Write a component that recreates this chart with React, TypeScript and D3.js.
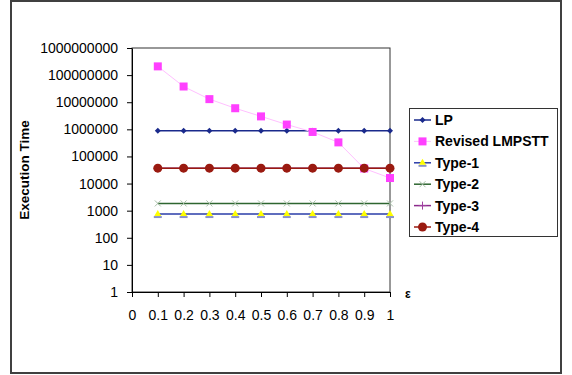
import React, { useRef, useEffect } from 'react';
import * as d3 from 'd3';

// x values (epsilon)
const epsilons = [0.1, 0.2, 0.3, 0.4, 0.5, 0.6, 0.7, 0.8, 0.9, 1.0];
const xTicks = [0, 0.1, 0.2, 0.3, 0.4, 0.5, 0.6, 0.7, 0.8, 0.9, 1];
const yTicks = [1, 10, 100, 1000, 10000, 100000, 1000000, 10000000, 100000000, 1000000000];

// series values
const lpValues = [890000, 890000, 890000, 890000, 890000, 890000, 890000, 890000, 890000, 890000];
const revisedValues = [210000000, 38000000, 13000000, 6000000, 3000000, 1500000, 800000, 330000, 36000, 16000];
const type1Values = [750, 750, 750, 750, 750, 750, 750, 750, 750, 750];
const type2Values = [1850, 1850, 1850, 1850, 1850, 1850, 1850, 1850, 1850, 1850];
const type3Values = [37000, 37000, 37000, 37000, 37000, 37000, 37000, 37000, 37000, 37000];
const type4Values = [37000, 37000, 37000, 37000, 37000, 37000, 37000, 37000, 37000, 37000];

const seriesNames = ['LP', 'Revised LMPSTT', 'Type-1', 'Type-2', 'Type-3', 'Type-4'];

type Series = { name: string; values: number[]; stroke: string; width: number; marker: string; fill: string; mstroke: string };

const series: Series[] = [
    { name: seriesNames[0], values: lpValues, stroke: '#1a2a8c', width: 1.5, marker: 'diamond', fill: '#1a2a8c', mstroke: '#1a2a8c' },
    { name: seriesNames[1], values: revisedValues, stroke: '#ffc0ff', width: 1, marker: 'square', fill: '#ff40ff', mstroke: '#ff40ff' },
    { name: seriesNames[2], values: type1Values, stroke: '#2a3ca8', width: 1.5, marker: 'triangle', fill: '#ffff00', mstroke: '#8a93c8' },
    { name: seriesNames[3], values: type2Values, stroke: '#2e6630', width: 1.5, marker: 'x', fill: 'none', mstroke: '#a8c0a8' },
    { name: seriesNames[4], values: type3Values, stroke: '#8a2a8a', width: 1.5, marker: 'plus', fill: 'none', mstroke: '#a040a0' },
    { name: seriesNames[5], values: type4Values, stroke: '#9a1a10', width: 1.5, marker: 'circle', fill: '#9a1a10', mstroke: '#9a1a10' },
];

const drawMarker = (g: any, kind: string, cx: number, cy: number, s: Series) => {
    if (kind === 'diamond') {
        g.append('path').attr('d', `M${cx},${cy - 3}L${cx + 3},${cy}L${cx},${cy + 3}L${cx - 3},${cy}Z`).attr('fill', s.fill);
    } else if (kind === 'square') {
        g.append('rect').attr('x', cx - 4).attr('y', cy - 4).attr('width', 8).attr('height', 8).attr('fill', s.fill);
    } else if (kind === 'triangle') {
        g.append('rect').attr('x', cx - 4).attr('y', cy + 2).attr('width', 8).attr('height', 2).attr('fill', s.mstroke);
        g.append('path').attr('d', `M${cx},${cy - 4}L${cx + 3.5},${cy + 2}L${cx - 3.5},${cy + 2}Z`).attr('fill', s.fill);
    } else if (kind === 'x') {
        g.append('path').attr('d', `M${cx - 3},${cy - 3}L${cx + 3},${cy + 3}M${cx - 3},${cy + 3}L${cx + 3},${cy - 3}`)
            .attr('stroke', s.mstroke).attr('stroke-width', 1);
    } else if (kind === 'plus') {
        g.append('path').attr('d', `M${cx - 4},${cy}L${cx + 4},${cy}M${cx},${cy - 4}L${cx},${cy + 4}`)
            .attr('stroke', s.mstroke).attr('stroke-width', 1);
    } else if (kind === 'circle') {
        g.append('circle').attr('cx', cx).attr('cy', cy).attr('r', 4.5).attr('fill', s.fill);
    }
};

const App = () => {
    const ref = useRef<SVGSVGElement>(null);

    useEffect(() => {
        const svg = d3.select(ref.current);
        svg.selectAll('*').remove();

        const W = 572, H = 375;
        const margin = { top: 48, left: 132, right: 182, bottom: 83 };
        const width = W - margin.left - margin.right;
        const height = H - margin.top - margin.bottom;
        const font = "'Liberation Sans', Arial, sans-serif";

        svg.append('rect').attr('width', W).attr('height', H).attr('fill', '#fff');
        // outer frame
        svg.append('rect').attr('x', 11).attr('y', 1).attr('width', 550).attr('height', 372)
            .attr('fill', 'none').attr('stroke', '#404040').attr('stroke-width', 2);

        const x = d3.scaleLinear().domain([0, 1]).range([0, width]);
        const y = d3.scaleLog().domain([1, 1e9]).range([height, 0]);

        const g = svg.append('g').attr('transform', `translate(${margin.left},${margin.top})`);

        // plot box
        g.append('rect').attr('width', width).attr('height', height).attr('fill', '#fff')
            .attr('stroke', '#333').attr('stroke-width', 1);

        // axes
        const yAxis = g.append('g')
            .call(d3.axisLeft(y).tickValues(yTicks).tickFormat(d => String(d)).tickSize(5).tickSizeOuter(0));
        yAxis.select('.domain').attr('stroke', '#000');
        yAxis.selectAll('text').attr('font-family', font).attr('font-size', 14).attr('fill', '#000').attr('x', -14);

        const xAxis = g.append('g').attr('transform', `translate(0,${height})`)
            .call(d3.axisBottom(x).tickValues(xTicks).tickFormat(d => String(d)).tickSize(5).tickSizeOuter(0));
        xAxis.select('.domain').attr('stroke', '#000');
        xAxis.selectAll('text').attr('font-family', font).attr('font-size', 14).attr('fill', '#000').attr('y', 18);

        // series lines, then markers on top
        series.forEach(s => {
            const line = d3.line<number>()
                .x((_, i) => x(epsilons[i]))
                .y(d => y(d));
            g.append('path').datum(s.values)
                .attr('fill', 'none').attr('stroke', s.stroke).attr('stroke-width', s.width)
                .attr('d', line);
        });
        series.forEach(s => {
            const mg = g.append('g');
            s.values.forEach((v, i) => drawMarker(mg, s.marker, x(epsilons[i]), y(v), s));
        });

        // axis titles
        svg.append('text')
            .attr('transform', `translate(29,${margin.top + height / 2}) rotate(-90)`)
            .attr('text-anchor', 'middle').attr('font-family', font).attr('font-weight', 'bold')
            .attr('font-size', 13.5).text('Execution Time');
        svg.append('text').attr('x', 405).attr('y', 298).attr('font-family', font)
            .attr('font-weight', 'bold').attr('font-size', 12).text('ε');

        // legend
        const lg = svg.append('g');
        lg.append('rect').attr('x', 409.5).attr('y', 108.5).attr('width', 148).attr('height', 128)
            .attr('fill', '#fff').attr('stroke', '#333').attr('stroke-width', 1);
        series.forEach((s, i) => {
            const cy = 120 + i * 21.4;
            lg.append('line').attr('x1', 414).attr('x2', 431).attr('y1', cy).attr('y2', cy)
                .attr('stroke', s.stroke).attr('stroke-width', s.width);
            drawMarker(lg, s.marker, 422.5, cy, s);
            lg.append('text').attr('x', 435).attr('y', cy).attr('dy', '0.35em')
                .attr('font-family', font).attr('font-weight', 'bold').attr('font-size', 14).text(s.name);
        });
    }, []);

    return (
        <svg ref={ref} width={572} height={375}
            style={{ position: 'absolute', left: 0, top: 0, display: 'block' }} />
    );
};

export default App;
